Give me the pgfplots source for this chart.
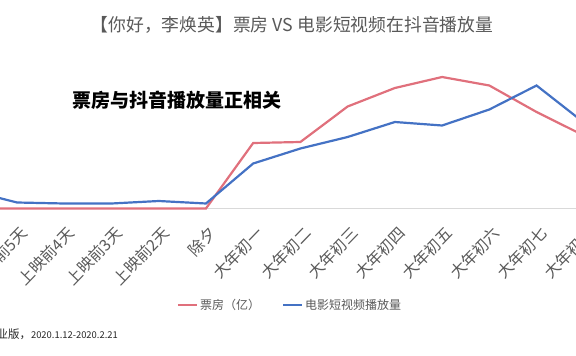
\documentclass[border=0pt]{standalone}
\usepackage{pgfplots}
\pgfplotsset{compat=1.18}
\usepackage{fontspec}
\setmainfont{Noto Sans CJK SC}
\definecolor{redl}{HTML}{E0707C}
\definecolor{bluel}{HTML}{4472C4}
\definecolor{txt}{HTML}{595959}
\begin{document}
\begin{tikzpicture}[x=1pt,y=1pt]
\begin{axis}[
 scale only axis, x=47.23pt, y=1pt,
 xmin=-0.6, xmax=13.6, ymin=0, ymax=140,
 axis x line*=bottom, axis y line=none,
 x axis line style={draw=black!15, line width=0.8pt},
 xtick={0,...,13},
 xticklabels={上映前6天,上映前5天,上映前4天,上映前3天,上映前2天,除夕,大年初一,大年初二,大年初三,大年初四,大年初五,大年初六,大年初七,大年初八},
 major tick length=0pt,
 xticklabel style={xshift=2pt, yshift=-15pt, rotate=46, anchor=north east, inner sep=1pt, font=\fontsize{15.8}{17}\selectfont, text=txt},
 ytick=\empty,
 clip=false,
 legend columns=2,
 legend style={at={(axis cs:6.78,-96.5)}, anchor=center, draw=none, fill=none,
   font=\fontsize{12}{14}\selectfont, text=txt,
   /tikz/every even column/.append style={column sep=20pt}},
 legend image code/.code={\draw[#1] (0pt,0pt) -- (19pt,0pt);},
]
\addplot[redl, line width=2.2pt] coordinates {
(0,0) (1,0) (2,0) (3,0) (4,0) (5,0) (6,65.5) (7,66.5) (8,102) (9,120.5) (10,131.5) (11,123) (12,96.5) (13,73)};
\addlegendentry{票房（亿）}
\addplot[bluel, line width=2.2pt] coordinates {
(0,18) (1,6) (2,5) (3,5) (4,7.5) (5,5) (6,45) (7,60) (8,71.5) (9,86.5) (10,83) (11,99) (12,123) (13,86)};
\addlegendentry{电影短视频播放量}
\node[text=txt, font=\fontsize{17.8}{20}\selectfont] at (axis cs:6.822,183.5) {【你好，李焕英】票房 VS 电影短视频在抖音播放量};
\node[font=\fontsize{19}{22}\selectfont\bfseries] at (axis cs:4.387,108.5) {票房与抖音播放量正相关};
\node[anchor=east, inner sep=0pt, font=\fontsize{11.5}{13}\selectfont, text=black!85] at (axis cs:3.138,-125.5) {数据来源：猫眼专业版，{\fontsize{9.4}{11}\selectfont 2020.1.12-2020.2.21}};
\coordinate (bbsw) at (axis cs:0.6394,-147.5);
\coordinate (bbne) at (axis cs:12.835,208.5);
\end{axis}
\pgfresetboundingbox
\useasboundingbox (bbsw) rectangle (bbne);
\end{tikzpicture}
\end{document}
